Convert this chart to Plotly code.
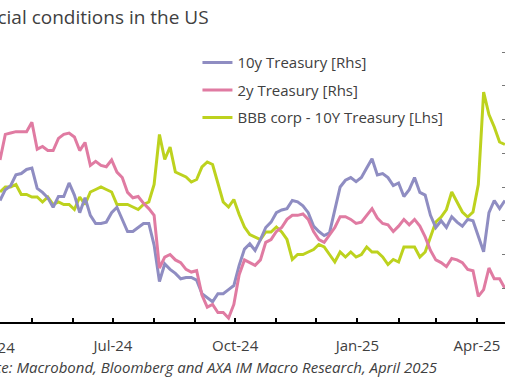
import pandas as pd
import plotly.graph_objects as go

# sampled observation dates (every 4 days, Apr-2024 .. Apr-2025)
dates = pd.date_range("2024-04-07", periods=96, freq="4D")

ust10y = [4.40, 4.48, 4.51, 4.59, 4.60, 4.63, 4.64, 4.49, 4.46, 4.42,
          4.35, 4.43, 4.43, 4.53, 4.44, 4.31, 4.42, 4.29, 4.23, 4.23,
          4.24, 4.31, 4.35, 4.26, 4.17, 4.17, 4.20, 4.23, 4.23, 4.07,
          3.80, 3.93, 3.89, 3.86, 3.82, 3.83, 3.83, 3.81, 3.71, 3.68,
          3.65, 3.71, 3.71, 3.74, 3.77, 3.92, 4.04, 4.08, 4.03, 4.11,
          4.20, 4.24, 4.31, 4.33, 4.34, 4.40, 4.39, 4.36, 4.31, 4.21,
          4.17, 4.14, 4.16, 4.33, 4.50, 4.55, 4.57, 4.54, 4.57, 4.64,
          4.71, 4.59, 4.60, 4.57, 4.51, 4.53, 4.43, 4.48, 4.57, 4.46,
          4.44, 4.29, 4.20, 4.25, 4.20, 4.28, 4.24, 4.21, 4.26, 4.25,
          4.14, 4.02, 4.31, 4.40, 4.34, 4.40]

ust2y = [4.70, 4.89, 4.90, 4.91, 4.91, 4.91, 4.98, 4.78, 4.80, 4.77,
         4.77, 4.86, 4.89, 4.90, 4.87, 4.77, 4.83, 4.66, 4.69, 4.66,
         4.65, 4.70, 4.61, 4.57, 4.46, 4.42, 4.43, 4.38, 4.34, 4.29,
         3.90, 3.98, 4.00, 3.96, 3.94, 3.89, 3.87, 3.88, 3.70, 3.61,
         3.63, 3.57, 3.57, 3.53, 3.63, 3.85, 3.96, 3.94, 3.92, 3.96,
         4.09, 4.11, 4.17, 4.20, 4.26, 4.29, 4.29, 4.30, 4.26, 4.17,
         4.11, 4.09, 4.15, 4.20, 4.28, 4.28, 4.26, 4.23, 4.24, 4.29,
         4.34, 4.27, 4.23, 4.22, 4.17, 4.21, 4.26, 4.22, 4.26, 4.21,
         4.13, 4.03, 3.96, 3.94, 3.91, 3.97, 3.96, 3.94, 3.89, 3.88,
         3.69, 3.74, 3.90, 3.82, 3.82, 3.75]

bbb_spread = [1.42, 1.44, 1.44, 1.45, 1.41, 1.41, 1.40, 1.40, 1.38, 1.40,
              1.37, 1.38, 1.37, 1.37, 1.35, 1.40, 1.37, 1.42, 1.43, 1.44,
              1.43, 1.42, 1.37, 1.37, 1.37, 1.36, 1.35, 1.37, 1.38, 1.45,
              1.65, 1.55, 1.60, 1.50, 1.49, 1.48, 1.46, 1.47, 1.52, 1.54,
              1.53, 1.46, 1.38, 1.36, 1.39, 1.33, 1.28, 1.25, 1.24, 1.23,
              1.26, 1.26, 1.28, 1.26, 1.23, 1.15, 1.17, 1.17, 1.18, 1.19,
              1.21, 1.20, 1.17, 1.14, 1.18, 1.16, 1.18, 1.16, 1.17, 1.20,
              1.18, 1.18, 1.16, 1.13, 1.15, 1.14, 1.20, 1.20, 1.20, 1.16,
              1.18, 1.24, 1.30, 1.32, 1.35, 1.42, 1.38, 1.34, 1.32, 1.34,
              1.45, 1.82, 1.73, 1.68, 1.62, 1.61]

month_ticks = pd.date_range("2024-04-01", "2025-04-01", freq="MS")
month_labels = [d.strftime("%b-%y") if d.month in (1, 4, 7, 10) else "" for d in month_ticks]
first_label = "Apr-24"

names = ["10y Treasury [Rhs]", "2y Treasury [Rhs]", "BBB corp - 10Y Treasury [Lhs]"]
colors = ["#8f8dc2", "#e07ba2", "#bdd21e"]

FONT = "Open Sans"

fig = go.Figure()
fig.add_trace(go.Scatter(x=dates, y=ust10y, name=names[0], yaxis="y2", mode="lines",
                         line=dict(color=colors[0], width=3), legendgroup="a"))
fig.add_trace(go.Scatter(x=dates, y=ust2y, name=names[1], yaxis="y2", mode="lines",
                         line=dict(color=colors[1], width=3), legendgroup="b"))
fig.add_trace(go.Scatter(x=dates, y=bbb_spread, name=names[2], yaxis="y", mode="lines",
                         line=dict(color=colors[2], width=3), legendgroup="c"))

fig.update_layout(
    width=505, height=379,
    margin=dict(l=0, r=0, t=40, b=57, autoexpand=False),
    paper_bgcolor="white", plot_bgcolor="white",
    font=dict(family=FONT, size=15, color="#404040"),
    showlegend=True,
    legend=dict(x=0.391, y=0.978, xanchor="left", yanchor="top",
                bgcolor="rgba(0,0,0,0)", font=dict(size=15, color="#404040"),
                tracegroupgap=5, itemwidth=30),
    xaxis=dict(type="date", range=["2024-04-07", "2025-04-22 02:00"],
               tickvals=month_ticks, ticktext=month_labels,
               ticks="inside", ticklen=4, tickcolor="#000", tickwidth=1.5,
               showline=True, linecolor="#000", linewidth=1.5,
               showgrid=False, zeroline=False, ticklabelstandoff=9,
               tickfont=dict(size=15, color="#404040")),
    yaxis=dict(range=[0.9, 2.028], showticklabels=False, showgrid=False,
               zeroline=False, showline=False, ticks=""),
    yaxis2=dict(range=[3.5, 5.589], overlaying="y", side="right",
                dtick=0.25, tick0=0, ticks="inside", ticklen=3, tickcolor="#777",
                showticklabels=False, showgrid=False, zeroline=False, showline=False,
                automargin=False),
)

# first period label sits partly left of the visible window (Apr-24 tick)
fig.add_annotation(text=first_label, xref="paper", yref="paper", x=-8.6/505,
                   y=(322-347)/282, xanchor="center", yanchor="middle", showarrow=False,
                   font=dict(size=15, color="#404040", family=FONT))

fig.add_annotation(text="Financial conditions in the US", xref="paper", yref="paper",
                   x=211/505, y=(322-17)/282, xanchor="right", yanchor="middle",
                   showarrow=False, font=dict(size=19, color="#404040", family=FONT))
fig.add_annotation(text="<i>Source: Macrobond, Bloomberg and AXA IM Macro Research, April 2025</i>",
                   xref="paper", yref="paper", x=440/505, y=(322-367)/282,
                   xanchor="right", yanchor="middle", showarrow=False,
                   font=dict(size=15, color="#404040", family=FONT))

fig.write_html("out.html", config={"displayModeBar": False},
               post_script="document.body.style.margin='0';")
